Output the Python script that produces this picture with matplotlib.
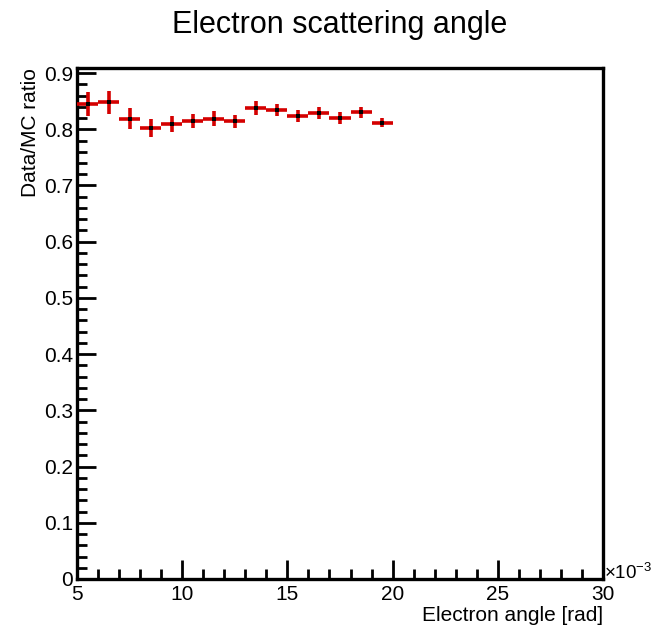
import matplotlib
matplotlib.use("Agg")
import matplotlib.pyplot as plt
from matplotlib.ticker import MultipleLocator, FuncFormatter
import numpy as np

plt.rcParams['font.family'] = ['Liberation Sans', 'DejaVu Sans']
plt.rcParams['mathtext.fontset'] = 'custom'
plt.rcParams['mathtext.rm'] = 'Liberation Sans'

bin_centers = [5.5, 6.5, 7.5, 8.5, 9.5, 10.5, 11.5, 12.5, 13.5, 14.5, 15.5, 16.5, 17.5, 18.5, 19.5]
ratio = [0.845, 0.848, 0.819, 0.802, 0.809, 0.815, 0.819, 0.814, 0.838, 0.834, 0.824, 0.829, 0.820, 0.830, 0.812]
ratio_err = [0.022, 0.020, 0.019, 0.016, 0.014, 0.013, 0.013, 0.012, 0.012, 0.011, 0.011, 0.011, 0.010, 0.010, 0.008]
bin_half_width = 0.5
x_ticks = [5, 10, 15, 20, 25, 30]
y_ticks = [0, 0.1, 0.2, 0.3, 0.4, 0.5, 0.6, 0.7, 0.8, 0.9]

fig = plt.figure(figsize=(6.54, 6.28), dpi=100)
ax = fig.add_axes([77/654, 1-579/628, (603-77)/654, (579-68)/628])

ax.errorbar(bin_centers, ratio, yerr=ratio_err, xerr=bin_half_width,
            fmt='s', color='#d40000', ecolor='#d40000', elinewidth=2.6,
            markersize=2.2, markerfacecolor='black', markeredgewidth=0,
            capsize=0, zorder=3)

ax.set_xlim(5, 30)
ax.set_ylim(0, 0.909)
ax.set_xticks(x_ticks)
ax.set_yticks(y_ticks)
ax.xaxis.set_minor_locator(MultipleLocator(1))
ax.yaxis.set_minor_locator(MultipleLocator(0.02))
ax.yaxis.set_major_formatter(FuncFormatter(lambda v, p: '0' if abs(v) < 1e-9 else f'{v:.1f}'))

ax.tick_params(which='both', direction='in', top=False, right=False, width=2, color='black')
ax.tick_params(which='major', length=14, labelsize=15, pad=3)
ax.tick_params(axis='x', which='major', pad=4)
ax.tick_params(which='minor', length=7)
for s in ax.spines.values():
    s.set_linewidth(2.4)

ax.set_xlabel('Electron angle [rad]', fontsize=15, loc='right', labelpad=2)
ax.set_ylabel('Data/MC ratio', fontsize=15, loc='top', labelpad=3)
fig.text(652/654, 1-573/628, '\u00d710$^{\u22123}$', fontsize=13.5, ha='right', va='center')
fig.suptitle('Electron scattering angle', fontsize=22, y=1-25/628, va='center', x=340/654)

fig.savefig('out.png', dpi=100)
